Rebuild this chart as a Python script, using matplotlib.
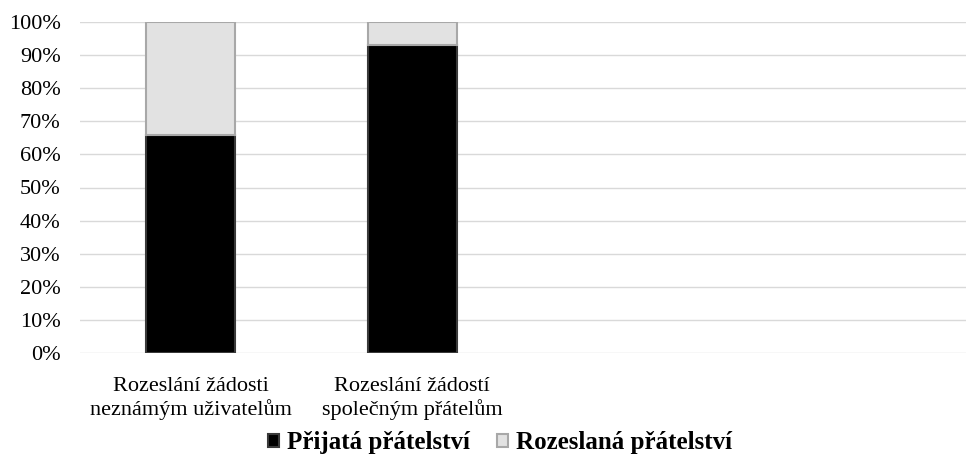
import matplotlib
matplotlib.use("Agg")
import matplotlib.pyplot as plt
from matplotlib.ticker import PercentFormatter

categories = ["Rozeslání žádosti\nneznámým uživatelům", "Rozeslání žádostí\nspolečným přátelům"]
accepted = [66, 93]
sent = [34, 7]
series_names = ["Přijatá přátelství", "Rozeslaná přátelství"]
yticks = [0, 10, 20, 30, 40, 50, 60, 70, 80, 90, 100]
n_slots = 4

plt.rcParams['font.family'] = ['Liberation Serif', 'DejaVu Serif']

fig = plt.figure(figsize=(9.66, 4.58), dpi=100)
ax = fig.add_axes([80/966, 1-353/458, 886/966, (353-22)/458])

x = list(range(len(categories)))
w = 0.4
b1 = ax.bar(x, accepted, width=w, color="#000000", edgecolor="#3a3a3a", linewidth=1.5,
            label=series_names[0], zorder=3)
b2 = ax.bar(x, sent, width=w, bottom=accepted, color="#e2e2e2", edgecolor="#a8a8a8",
            linewidth=1.5, label=series_names[1], zorder=3)

ax.set_xlim(-0.5, n_slots - 0.5)
ax.set_ylim(0, 100)
ax.set_yticks(yticks)
ax.yaxis.set_major_formatter(PercentFormatter(decimals=0))
ax.set_xticks(x)
ax.set_xticklabels(categories, fontsize=16, linespacing=1.25)
ax.tick_params(axis='y', labelsize=16, length=0, pad=14)
ax.tick_params(axis='x', length=0, pad=17)
ax.grid(axis='y', color="#d9d9d9", linewidth=1, zorder=0)
for s in ax.spines.values():
    s.set_visible(False)

leg = fig.legend(handles=[b1, b2], labels=series_names, loc='center',
                 bbox_to_anchor=(500/966, 1-443/458), ncol=2, frameon=False,
                 prop={'weight': 'bold', 'size': 18}, handlelength=0.45, handleheight=0.45,
                 handletextpad=0.3, columnspacing=1.1)

fig.savefig("out.png", dpi=100)
